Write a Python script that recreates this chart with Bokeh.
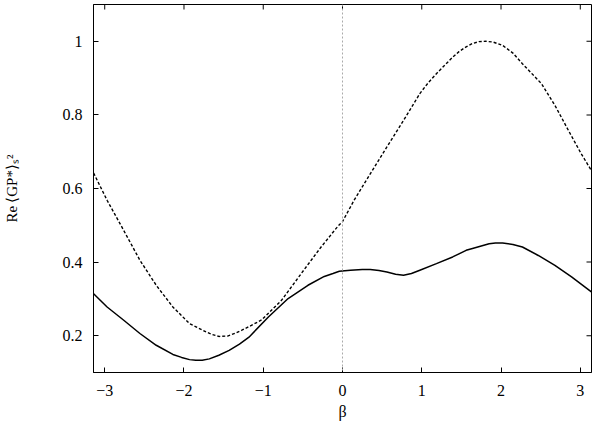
import math
from bokeh.plotting import figure
from bokeh.models import Range1d, FixedTicker, Span
from bokeh.embed import file_html
from bokeh.resources import INLINE

# dashed curve
beta_dashed = [-3.14, -2.97, -2.76, -2.556, -2.35, -2.14, -1.93, -1.72, -1.64, -1.56, -1.45,
               -1.35, -1.27, -1.15, -1.02, -0.77, -0.52, -0.27, -0.06, 0.0, 0.146, 0.35,
               0.56, 0.77, 0.976, 1.08, 1.185, 1.39, 1.47, 1.56, 1.64, 1.72, 1.81, 1.9,
               2.02, 2.15, 2.27, 2.51, 2.68, 2.85, 3.01, 3.14]
val_dashed = [0.642, 0.568, 0.486, 0.405, 0.337, 0.278, 0.233, 0.210, 0.203, 0.198, 0.199,
              0.207, 0.215, 0.228, 0.243, 0.296, 0.369, 0.441, 0.497, 0.510, 0.568, 0.640,
              0.713, 0.785, 0.858, 0.887, 0.912, 0.957, 0.972, 0.985, 0.994, 0.999, 1.000, 0.998,
              0.989, 0.968, 0.939, 0.885, 0.826, 0.758, 0.695, 0.649]

# solid curve
beta_solid = [-3.14, -2.97, -2.76, -2.556, -2.35, -2.14, -2.03, -1.93, -1.85, -1.77, -1.68,
              -1.56, -1.43, -1.3, -1.18, -0.935, -0.686, -0.436, -0.23, -0.12, -0.04, 0.1,
              0.25, 0.35, 0.46, 0.56, 0.67, 0.77, 0.87, 0.976, 1.185, 1.39, 1.56, 1.64,
              1.85, 1.93, 2.02, 2.15, 2.27, 2.47, 2.68, 2.89, 3.14]
val_solid = [0.314, 0.278, 0.242, 0.206, 0.174, 0.149, 0.141, 0.135, 0.133, 0.133, 0.137,
             0.147, 0.160, 0.177, 0.196, 0.251, 0.301, 0.337, 0.361, 0.369, 0.375, 0.378,
             0.380, 0.380, 0.377, 0.373, 0.367, 0.364, 0.369, 0.378, 0.396, 0.414, 0.432, 0.437,
             0.450, 0.452, 0.452, 0.448, 0.441, 0.418, 0.391, 0.360, 0.319]

x_ticks = [-3, -2, -1, 0, 1, 2, 3]
y_ticks = [0.2, 0.4, 0.6, 0.8, 1.0]
y_tick_labels = ["0.2", "0.4", "0.6", "0.8", "1"]
y_label = "Re\u2009\u27e8GP*\u27e9\u209b\u00b2"
x_label = "β"

SERIF = "Liberation Serif"
X0, X1 = -math.pi, math.pi
Y0, Y1 = 0.1, 1.1
W, H = 592, 424

p = figure(width=W, height=H,
           x_range=Range1d(X0, X1), y_range=Range1d(Y0, Y1),
           output_backend="svg", toolbar_location=None,
           min_border_left=93, min_border_right=1, min_border_top=4, min_border_bottom=52)
p.grid.visible = False
p.outline_line_color = "black"
p.outline_line_width = 1
p.background_fill_color = "white"
p.border_fill_color = "white"

for ax in (p.xaxis[0], p.yaxis[0]):
    ax.major_tick_in = 5
    ax.major_tick_out = 0
    ax.minor_tick_in = 0
    ax.minor_tick_out = 0
    ax.axis_line_color = "black"
    ax.major_tick_line_color = "black"
    ax.major_label_text_font = SERIF
    ax.major_label_text_font_size = "16px"
    ax.major_label_text_color = "black"
    ax.axis_label_text_font = SERIF
    ax.axis_label_text_font_style = "normal"
    ax.axis_label_text_color = "black"

p.xaxis[0].ticker = FixedTicker(ticks=x_ticks)
p.yaxis[0].ticker = FixedTicker(ticks=y_ticks)
p.yaxis[0].major_label_overrides = {t: l for t, l in zip(y_ticks, y_tick_labels)}
p.xaxis[0].major_label_standoff = 12
p.yaxis[0].major_label_standoff = 11
p.xaxis[0].axis_label = x_label
p.xaxis[0].axis_label_text_font_size = "16px"
p.xaxis[0].axis_label_standoff = 4
p.yaxis[0].axis_label = y_label
p.yaxis[0].axis_label_text_font_size = "15px"
p.yaxis[0].axis_label_standoff = 40

# mirror ticks on top and right edges (half of each mark is clipped by the frame)
p.rect(x=x_ticks, y=[Y1] * len(x_ticks), width=1, height=10,
       width_units="screen", height_units="screen", fill_color="black", line_color=None)
p.rect(x=[X1] * len(y_ticks), y=y_ticks, width=10, height=1,
       width_units="screen", height_units="screen", fill_color="black", line_color=None)

p.add_layout(Span(location=0, dimension="height", line_color="#aaaaaa",
                  line_dash="2 2", line_width=1))

p.line(beta_dashed, val_dashed, line_color="black", line_width=1.4, line_dash="3 2")
p.line(beta_solid, val_solid, line_color="black", line_width=1.5)

open("out.html", "w").write(file_html(p, INLINE))
